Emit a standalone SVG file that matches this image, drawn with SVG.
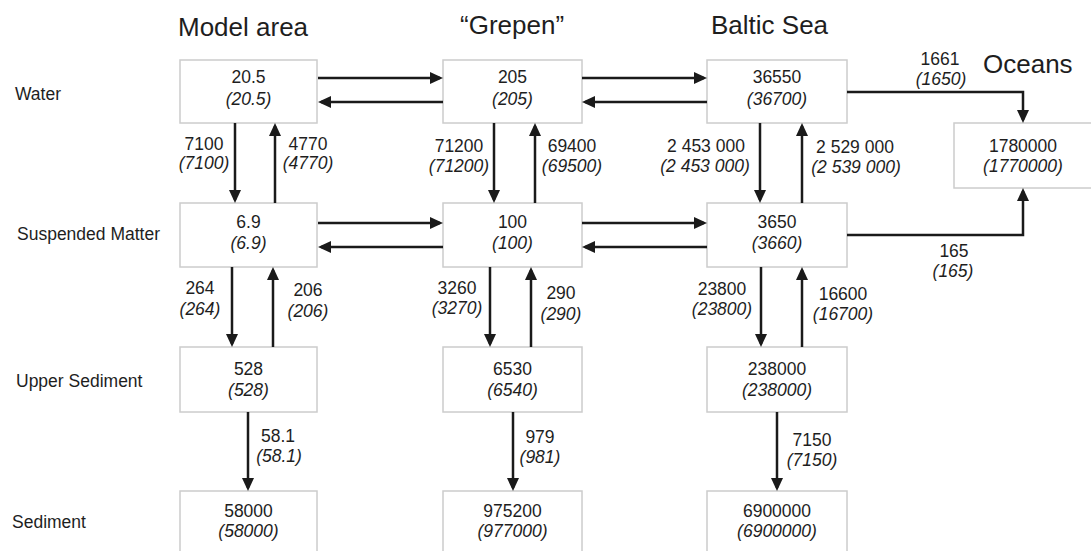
<svg xmlns="http://www.w3.org/2000/svg" width="1091" height="551" viewBox="0 0 1091 551">
  <style>
    text { font-family: "Liberation Sans", Arial, sans-serif; fill: #1e1e1e; }
    .head { font-size: 26px; }
    .row { font-size: 17.5px; }
    .val { font-size: 17.5px; text-anchor: middle; }
    .it { font-style: italic; }
    .box { fill: #ffffff; stroke: #cccccc; stroke-width: 1.5; }
    .flow { fill: none; stroke: #1a1a1a; stroke-width: 2.5; marker-end: url(#head); }
  </style>
  <defs>
    <marker id="head" markerUnits="userSpaceOnUse" viewBox="0 0 13 12" markerWidth="13" markerHeight="12" refX="10" refY="6" orient="auto">
      <path d="M0,0 L13,6 L0,12 z" fill="#1a1a1a"/>
    </marker>
  </defs>
  <rect width="1091" height="551" fill="#ffffff"/>

  <!-- column headings -->
  <g id="headings">
    <text class="head" x="178" y="36">Model area</text>
    <text class="head" x="460" y="34">“Grepen”</text>
    <text class="head" x="711" y="34">Baltic Sea</text>
    <text class="head" x="983" y="73">Oceans</text>
  </g>

  <!-- row labels -->
  <g id="rows">
    <text class="row" x="15" y="100">Water</text>
    <text class="row" x="17" y="240">Suspended Matter</text>
    <text class="row" x="16" y="387">Upper Sediment</text>
    <text class="row" x="12" y="528">Sediment</text>
  </g>

  <!-- compartments -->
  <g id="model-water"><rect class="box" x="180" y="60" width="137" height="63"/><text class="val" x="248.5" y="83">20.5</text><text class="val it" x="248.5" y="105">(20.5)</text></g>
  <g id="model-susp"><rect class="box" x="180" y="203" width="137" height="64"/><text class="val" x="248.5" y="228">6.9</text><text class="val it" x="248.5" y="249">(6.9)</text></g>
  <g id="model-upper"><rect class="box" x="180" y="347" width="137" height="65"/><text class="val" x="248.5" y="375">528</text><text class="val it" x="248.5" y="396">(528)</text></g>
  <g id="model-sed"><rect class="box" x="180" y="491" width="137" height="66"/><text class="val" x="248.5" y="517">58000</text><text class="val it" x="248.5" y="537">(58000)</text></g>

  <g id="grepen-water"><rect class="box" x="443" y="60" width="139" height="63"/><text class="val" x="512.5" y="83">205</text><text class="val it" x="512.5" y="105">(205)</text></g>
  <g id="grepen-susp"><rect class="box" x="443" y="203" width="139" height="64"/><text class="val" x="512.5" y="228">100</text><text class="val it" x="512.5" y="249">(100)</text></g>
  <g id="grepen-upper"><rect class="box" x="443" y="347" width="139" height="65"/><text class="val" x="512.5" y="375">6530</text><text class="val it" x="512.5" y="396">(6540)</text></g>
  <g id="grepen-sed"><rect class="box" x="443" y="491" width="139" height="66"/><text class="val" x="512.5" y="517">975200</text><text class="val it" x="512.5" y="537">(977000)</text></g>

  <g id="baltic-water"><rect class="box" x="707" y="60" width="140" height="63"/><text class="val" x="777" y="83">36550</text><text class="val it" x="777" y="105">(36700)</text></g>
  <g id="baltic-susp"><rect class="box" x="707" y="203" width="140" height="64"/><text class="val" x="777" y="228">3650</text><text class="val it" x="777" y="249">(3660)</text></g>
  <g id="baltic-upper"><rect class="box" x="707" y="347" width="140" height="65"/><text class="val" x="777" y="375">238000</text><text class="val it" x="777" y="396">(238000)</text></g>
  <g id="baltic-sed"><rect class="box" x="707" y="491" width="140" height="66"/><text class="val" x="777" y="517">6900000</text><text class="val it" x="777" y="537">(6900000)</text></g>

  <g id="oceans"><rect class="box" x="954" y="123" width="138" height="65"/><text class="val" x="1023" y="152">1780000</text><text class="val it" x="1023" y="172">(1770000)</text></g>

  <!-- flows between compartments -->
  <g id="connectors">
    <!-- horizontal exchange, water -->
    <path class="flow" d="M318,78 H440"/>
    <path class="flow" d="M443,102 H321"/>
    <path class="flow" d="M582,78 H704"/>
    <path class="flow" d="M707,102 H585"/>
    <!-- horizontal exchange, suspended matter -->
    <path class="flow" d="M318,223 H440"/>
    <path class="flow" d="M443,247 H321"/>
    <path class="flow" d="M582,223 H704"/>
    <path class="flow" d="M707,247 H585"/>
    <!-- water <-> suspended matter -->
    <path class="flow" d="M235,123 V200"/>
    <path class="flow" d="M275,203 V126"/>
    <path class="flow" d="M494,123 V200"/>
    <path class="flow" d="M535,203 V126"/>
    <path class="flow" d="M760,123 V200"/>
    <path class="flow" d="M802,203 V126"/>
    <!-- suspended matter <-> upper sediment -->
    <path class="flow" d="M232,267 V344"/>
    <path class="flow" d="M273,347 V270"/>
    <path class="flow" d="M490,267 V344"/>
    <path class="flow" d="M531,347 V270"/>
    <path class="flow" d="M761,267 V344"/>
    <path class="flow" d="M802,347 V270"/>
    <!-- burial -->
    <path class="flow" d="M248,412 V488"/>
    <path class="flow" d="M513,412 V488"/>
    <path class="flow" d="M777,412 V488"/>
    <!-- Baltic Sea to oceans -->
    <path class="flow" d="M847,92 H1023 V120"/>
    <path class="flow" d="M847,235 H1023 V191"/>
  </g>

  <!-- flow labels -->
  <g id="flow-labels">
    <text class="val" x="204" y="150">7100</text><text class="val it" x="204" y="169">(7100)</text>
    <text class="val" x="308" y="150">4770</text><text class="val it" x="308" y="169">(4770)</text>
    <text class="val" x="459" y="152">71200</text><text class="val it" x="459" y="172">(71200)</text>
    <text class="val" x="572" y="152">69400</text><text class="val it" x="572" y="172">(69500)</text>
    <text class="val" x="706" y="152">2 453 000</text><text class="val it" x="705" y="172">(2 453 000)</text>
    <text class="val" x="855" y="153">2 529 000</text><text class="val it" x="856" y="173">(2 539 000)</text>
    <text class="val" x="940" y="65">1661</text><text class="val it" x="941" y="85">(1650)</text>
    <text class="val" x="954" y="257">165</text><text class="val it" x="953" y="277">(165)</text>

    <text class="val" x="200" y="294">264</text><text class="val it" x="200" y="315">(264)</text>
    <text class="val" x="308" y="296">206</text><text class="val it" x="308" y="317">(206)</text>
    <text class="val" x="457" y="294">3260</text><text class="val it" x="457" y="314">(3270)</text>
    <text class="val" x="561" y="299">290</text><text class="val it" x="561" y="320">(290)</text>
    <text class="val" x="722" y="295">23800</text><text class="val it" x="722" y="315">(23800)</text>
    <text class="val" x="843" y="300">16600</text><text class="val it" x="843" y="320">(16700)</text>

    <text class="val" x="278" y="442">58.1</text><text class="val it" x="279" y="462">(58.1)</text>
    <text class="val" x="540" y="443">979</text><text class="val it" x="540" y="463">(981)</text>
    <text class="val" x="812" y="446">7150</text><text class="val it" x="812" y="466">(7150)</text>
  </g>
</svg>
